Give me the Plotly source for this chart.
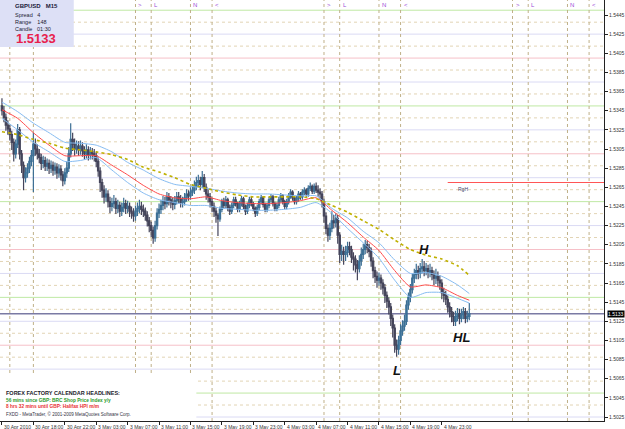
import plotly.graph_objects as go

# ---------------- data (prices in pips above 1.5000) ----------------
first_open = 350
closes = [
    345, 338, 330, 326, 320, 312, 300, 310, 325, 300,
    288, 275, 280, 285, 292, 298, 310, 305, 300, 296,
    290, 293, 287, 290, 285, 288, 283, 286, 280, 284,
    278, 272, 280, 285, 300, 315, 310, 305, 308, 304,
    308, 303, 300, 304, 299, 302, 300, 298, 292, 282,
    270, 262, 255, 258, 250, 245, 248, 250, 243, 246,
    240, 244, 248, 243, 245, 240, 238, 235, 240, 243,
    245, 242, 240, 236, 230, 225, 220, 212, 225, 238,
    242, 246, 250, 248, 255, 252, 249, 247, 251, 255,
    253, 249, 250, 254, 258, 256, 260, 262, 266, 270,
    272, 268, 275, 265, 258, 255, 250, 245, 240, 236,
    232, 242, 250, 246, 252, 244, 240, 246, 252, 248,
    242, 248, 253, 245, 240, 246, 252, 248, 243, 238,
    244, 250, 254, 247, 242, 246, 252, 255, 248, 243,
    246, 252, 256, 250, 245, 250, 256, 260, 254, 250,
    253, 258, 255, 260, 262, 258, 264, 266, 261, 266,
    262, 260, 258, 250, 235, 222, 215, 222, 230, 228,
    232, 215, 195, 198, 195, 197, 203, 200, 192, 190,
    184, 180, 188, 195, 200, 205, 202, 198, 188, 178,
    172, 168, 170, 165, 160, 152, 146, 140, 128, 118,
    100, 96, 105, 115, 120, 125, 142, 150, 158, 170,
    174, 178, 175, 180, 182, 178, 180, 176, 178, 174,
    170, 172, 168, 165, 155, 152, 148, 140, 135, 130,
    125, 130, 133, 128, 132, 135, 128, 130, 133,
]
highs = [
    358, 350, 342, 335, 330, 324, 316, 315, 331, 328,
    304, 292, 286, 290, 297, 304, 322, 316, 310, 305,
    300, 298, 297, 295, 294, 293, 292, 291, 290, 289,
    288, 282, 285, 292, 307, 332, 322, 316, 314, 313,
    314, 312, 308, 310, 308, 307, 306, 305, 302, 296,
    286, 274, 267, 264, 262, 255, 254, 257, 254, 252,
    250, 249, 254, 252, 251, 249, 245, 243, 246, 249,
    252, 250, 247, 244, 240, 234, 229, 224, 230, 243,
    248, 252, 256, 255, 260, 259, 256, 254, 256, 260,
    260, 257, 255, 259, 263, 262, 265, 268, 272, 276,
    278, 276, 282, 279, 269, 263, 259, 254, 249, 244,
    238, 245, 253, 254, 256, 254, 247, 249, 255, 255,
    250, 251, 256, 255, 247, 249, 255, 255, 250, 245,
    247, 253, 257, 256, 249, 249, 255, 258, 257, 250,
    249, 255, 259, 258, 252, 253, 259, 263, 262, 256,
    256, 261, 260, 263, 265, 264, 267, 270, 268, 269,
    270, 267, 264, 261, 253, 239, 226, 228, 240, 236,
    238, 236, 218, 205, 203, 204, 208, 208, 204, 197,
    194, 189, 194, 202, 206, 210, 209, 206, 202, 192,
    182, 177, 176, 174, 169, 164, 156, 150, 144, 132,
    122, 106, 110, 122, 126, 132, 147, 155, 164, 175,
    180, 185, 183, 186, 190, 188, 186, 184, 185, 182,
    178, 180, 177, 173, 169, 160, 157, 152, 145, 140,
    135, 136, 139, 138, 138, 140, 139, 136, 144,
]
lows = [
    340, 333, 324, 320, 314, 304, 292, 295, 306, 294,
    280, 262, 270, 275, 280, 287, 260, 298, 294, 290,
    283, 285, 282, 282, 279, 280, 277, 278, 274, 275,
    272, 266, 268, 275, 281, 296, 303, 298, 300, 298,
    299, 297, 294, 295, 293, 294, 294, 292, 286, 276,
    260, 254, 248, 250, 244, 238, 240, 243, 237, 238,
    234, 235, 239, 237, 238, 234, 232, 229, 230, 235,
    238, 236, 234, 230, 224, 218, 213, 206, 208, 221,
    233, 237, 241, 242, 244, 246, 243, 241, 242, 247,
    248, 244, 244, 246, 250, 251, 252, 256, 258, 262,
    265, 262, 264, 260, 252, 249, 244, 239, 234, 228,
    214, 229, 239, 243, 243, 240, 236, 237, 243, 245,
    239, 239, 245, 242, 236, 237, 243, 245, 240, 234,
    235, 241, 247, 244, 239, 239, 243, 249, 245, 240,
    240, 243, 249, 247, 242, 242, 247, 253, 251, 247,
    247, 250, 252, 252, 257, 255, 255, 261, 258, 258,
    259, 255, 252, 244, 228, 216, 208, 210, 218, 222,
    223, 206, 186, 188, 184, 188, 192, 194, 186, 178,
    176, 168, 176, 183, 190, 195, 196, 192, 182, 170,
    165, 160, 162, 158, 153, 144, 139, 132, 120, 108,
    92, 88, 90, 100, 110, 115, 121, 137, 145, 154,
    165, 169, 169, 170, 175, 172, 173, 170, 171, 168,
    163, 164, 161, 158, 148, 145, 142, 134, 129, 124,
    120, 120, 125, 122, 124, 127, 123, 124, 126,
]

ma_bars = [0, 8, 16, 24, 32, 40, 48, 56, 64, 72, 80, 88, 96, 104, 112, 120,
           128, 136, 144, 152, 160, 168, 176, 184, 192, 200, 208, 216, 224, 232, 238]
ma_red = [346, 337, 322, 309, 298, 298, 298, 288, 278, 267, 258, 254, 253, 255, 251, 249,
          248, 248, 249, 251, 254, 241, 228, 213, 199, 178, 161, 163, 160, 152, 147]
ma_upper = [354, 344, 332, 322, 312, 311, 309, 302, 291, 283, 274, 268, 266, 264, 261, 259,
            258, 258, 257, 256, 256, 243, 233, 219, 207, 189, 175, 176, 172, 163, 154]
ma_lower = [337, 325, 312, 302, 292, 293, 296, 283, 270, 259, 252, 249, 246, 246, 243, 242,
            241, 241, 242, 244, 249, 238, 222, 207, 191, 168, 150, 155, 155, 149, 144]
ma_yellow = [323, 320, 315, 311, 306, 304, 302, 299, 294, 286, 281, 275, 268, 264, 260, 257,
             255, 255, 255, 255, 253, 246, 239, 230, 221, 210, 200, 194, 190, 183, 173]

x_tick_bars = [0, 16, 32, 48, 64, 80, 96, 112, 128, 144, 160, 176, 192, 208, 224]
x_tick_labels = ["30 Apr 2010", "30 Apr 18:00", "30 Apr 22:00", "3 May 03:00", "3 May 07:00",
                 "3 May 11:00", "3 May 15:00", "3 May 19:00", "3 May 23:00", "4 May 03:00",
                 "4 May 07:00", "4 May 11:00", "4 May 15:00", "4 May 19:00", "4 May 23:00"]
y_ticks = [1.5025, 1.5045, 1.5065, 1.5085, 1.5105, 1.5125, 1.5145, 1.5165, 1.5185, 1.5205,
           1.5225, 1.5245, 1.5265, 1.5285, 1.5305, 1.5325, 1.5345, 1.5365, 1.5385, 1.5405,
           1.5425, 1.5445]

session_bars = [4, 16, 68, 76, 96, 107, 164, 172, 192, 203, 260, 268, 288, 299]
session_marks = ["N", "<", ">", "L", "N", "<", ">", "L", "N", "<", ">", "L", "N", "<"]

levels_green = [1.5450, 1.5350, 1.5250, 1.5150, 1.5050]
levels_pink = [1.5400, 1.5300, 1.5200, 1.5100]
levels_lav = [1.5425, 1.5375, 1.5325, 1.5275, 1.5225, 1.5175, 1.5125, 1.5075, 1.5025]
levels_tan = [1.54375, 1.54125, 1.53875, 1.53625, 1.53375, 1.53125, 1.52875, 1.52625,
              1.52375, 1.52125, 1.51875, 1.51625, 1.51375, 1.51125, 1.50875, 1.50625,
              1.50375]

bid_price = 1.5133
high_level = 1.5270
high_start_bar = 227

# ---------------- build ----------------
def px(p):
    return 1.5 + p / 10000.0

bars = list(range(len(closes)))
opens = [first_open] + closes[:-1]

W, H = 625, 429
ML, MR, MT, MB = 0, 19, 0, 8
PW, PH = W - ML - MR, H - MT - MB
Y0, Y1 = 1.502082, 1.546067
X0, X1 = -1.0, 306.6

def fx(xp):
    return xp / PW

def fy(yp):
    return 1 - yp / PH

fig = go.Figure()
fig.add_trace(go.Candlestick(
    x=bars, open=[px(v) for v in opens], high=[px(v) for v in highs],
    low=[px(v) for v in lows], close=[px(v) for v in closes],
    increasing=dict(line=dict(color="#3d6f94", width=1.2), fillcolor="#2a8cc4"),
    decreasing=dict(line=dict(color="#44445a", width=1.2), fillcolor="#44445a"),
    whiskerwidth=0, showlegend=False, hoverinfo="skip"))

for vals, col, w, dash in [(ma_upper, "#86bcf2", 1, "solid"), (ma_lower, "#86bcf2", 1, "solid"),
                           (ma_red, "#ff4a4a", 1, "solid"), (ma_yellow, "#bfb000", 1.6, "dot")]:
    fig.add_trace(go.Scatter(x=ma_bars, y=[px(v) for v in vals], mode="lines",
                             line=dict(color=col, width=w, dash=dash, shape="spline", smoothing=0.6),
                             showlegend=False, hoverinfo="skip"))

shapes = []
for lv in levels_tan:
    shapes.append(dict(type="line", xref="paper", x0=0, x1=1, yref="y", y0=lv, y1=lv,
                       line=dict(color="#e2d4b4", width=1, dash="dot"), layer="below"))
for lv in levels_lav:
    shapes.append(dict(type="line", xref="paper", x0=0, x1=1, yref="y", y0=lv, y1=lv,
                       line=dict(color="#dadaf4", width=1), layer="below"))
for lv in levels_pink:
    shapes.append(dict(type="line", xref="paper", x0=0, x1=1, yref="y", y0=lv, y1=lv,
                       line=dict(color="#f6c0c8", width=1), layer="below"))
for lv in levels_green:
    shapes.append(dict(type="line", xref="paper", x0=0, x1=1, yref="y", y0=lv, y1=lv,
                       line=dict(color="#bfe9a4", width=1), layer="below"))
for b in session_bars:
    shapes.append(dict(type="line", xref="x", x0=b, x1=b, yref="paper", y0=0, y1=1,
                       line=dict(color="#bfb088", width=1, dash="dot"), layer="below"))
# white area behind headlines text
shapes.append(dict(type="rect", xref="paper", x0=0, x1=fx(197), yref="paper", y0=0, y1=fy(375),
                   fillcolor="white", line=dict(width=0), layer="below"))
# bid line and high line
shapes.append(dict(type="line", xref="paper", x0=0, x1=1, yref="y", y0=bid_price, y1=bid_price,
                   line=dict(color="#7a7aa4", width=1.5), layer="below"))
shapes.append(dict(type="line", xref="x", x0=high_start_bar, x1=X1, yref="y", y0=high_level,
                   y1=high_level, line=dict(color="#ff5555", width=1), layer="above"))
# info box
shapes.append(dict(type="rect", xref="paper", x0=0, x1=fx(74), yref="paper", y0=fy(47), y1=1,
                   fillcolor="#dde0f6", line=dict(width=0), layer="above"))
fig.update_layout(shapes=shapes, boxgap=0.05)

ann = []
FONT = "Liberation Sans"
for b, t in zip(x_tick_bars, x_tick_labels):
    ann.append(dict(x=b, xref="x", y=0, yref="paper", yanchor="top", xanchor="left", yshift=-1,
                    text=t, showarrow=False, font=dict(family=FONT, size=5, color="#333333")))
for b, t in zip(session_bars, session_marks):
    if b * 1.97 + 2 < 76:
        continue
    ann.append(dict(x=b, xref="x", y=fy(5), yref="paper", xanchor="left", yanchor="middle", xshift=1,
                    text=t, showarrow=False, font=dict(family=FONT, size=6, color="#9a4ad8")))
# bid label
ann.append(dict(x=1, xref="paper", y=bid_price, yref="y", xanchor="left", yanchor="middle", xshift=3,
                text="1.5133", showarrow=False, bgcolor="black", borderpad=0,
                font=dict(family=FONT, size=5, color="white")))
ann.append(dict(x=high_start_bar + 4, xref="x", y=high_level, yref="y", xanchor="left", yanchor="top",
                yshift=-1, text="RgH", showarrow=False, font=dict(family=FONT, size=5, color="#44446a")))
# info box text
box_txt = [("<b>GBPUSD   M15</b>", 13, 6, 6, "#1a1a3a"),
           ("Spread   4", 13, 15, 5.5, "#222233"),
           ("Range    148", 13, 22, 5.5, "#222233"),
           ("Candle   01:30", 13, 29, 5.5, "#222233"),
           ("<b>1.5133</b>", 14, 39, 13, "#e8204c")]
for t, x, y, s, c in box_txt:
    ann.append(dict(x=fx(x), xref="paper", y=fy(y), yref="paper", xanchor="left", yanchor="middle",
                    text=t, showarrow=False, font=dict(family=FONT, size=s, color=c)))
# headlines
head = [("<b>FOREX FACTORY CALENDAR HEADLINES:</b>", 393, 5.5, "#1a1a2a"),
        ("<b>56 mins since GBP: BRC Shop Price Index y/y</b>", 400, 4.8, "#2a9a2a"),
        ("<b>8 hrs 32 mins until GBP: Halifax HPI m/m</b>", 406, 4.8, "#e83030"),
        ("FXDD - MetaTrader, © 2001-2009 MetaQuotes Software Corp.", 414, 4.5, "#333344")]
for t, y, s, c in head:
    ann.append(dict(x=fx(4), xref="paper", y=fy(y), yref="paper", xanchor="left", yanchor="middle",
                    text=t, showarrow=False, font=dict(family=FONT, size=s, color=c)))
# pattern labels
for t, x, y in [("H", 425, 249), ("L", 398, 370), ("HL", 463, 337)]:
    ann.append(dict(x=fx(x), xref="paper", y=fy(y), yref="paper", xanchor="center", yanchor="middle",
                    text="<b><i>" + t + "</i></b>", showarrow=False,
                    font=dict(family=FONT, size=13, color="#111111")))
fig.update_layout(annotations=ann)

fig.update_layout(
    width=W, height=H, margin=dict(l=ML, r=MR, t=MT, b=MB),
    paper_bgcolor="white", plot_bgcolor="white",
    xaxis=dict(range=[X0, X1], showgrid=False, zeroline=False, rangeslider=dict(visible=False),
               showline=True, linecolor="#222222", linewidth=1, ticks="outside", ticklen=3,
               tickcolor="#222222", tickvals=x_tick_bars, showticklabels=False, fixedrange=True),
    yaxis=dict(range=[Y0, Y1], side="right", showgrid=False, zeroline=False, showline=True,
               linecolor="#222222", linewidth=1, ticks="outside", ticklen=3, tickcolor="#222222",
               tickvals=y_ticks, ticktext=["%.4f" % v for v in y_ticks],
               tickfont=dict(family=FONT, size=5, color="#333333"), fixedrange=True),
)
fig.write_html("out.html")
